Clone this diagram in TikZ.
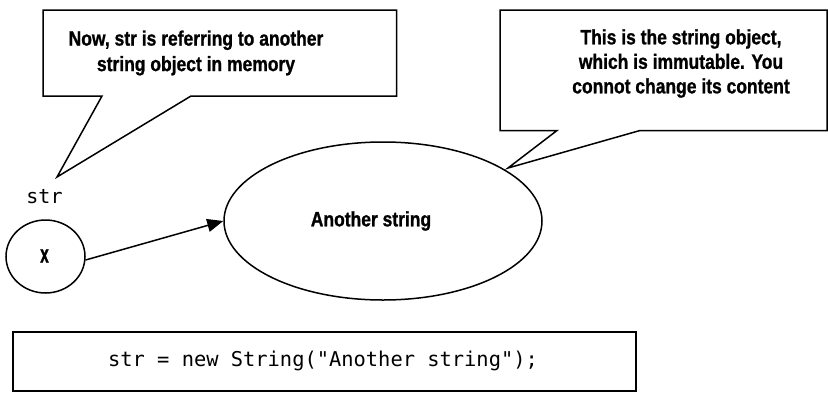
\documentclass[tikz,border=0pt]{standalone}
\usepackage{fontspec}
\setmainfont{Liberation Sans}
\newfontfamily\condfont[FakeStretch=0.84,BoldFeatures={FakeBold=1}]{Liberation Sans}
\newfontfamily\narrowfont[FakeStretch=0.62,BoldFeatures={FakeBold=1}]{Liberation Sans}
\newfontfamily\codefont{DejaVu Sans Mono}
\usetikzlibrary{shapes.geometric,arrows.meta}
\begin{document}
\begin{tikzpicture}[x=1pt,y=-1pt,line width=1.5pt,
  calltext/.style={font=\condfont\bfseries\fontsize{20.8}{25.5}\selectfont,align=center,inner sep=0pt},
  calltextb/.style={font=\condfont\bfseries\fontsize{20.8}{24.5}\selectfont,align=center,inner sep=0pt},
  codetext/.style={font=\codefont\fontsize{20.4}{24}\selectfont,inner sep=0pt},
  callout/.style={draw=black,line join=miter},
  arr/.style={-{Triangle[length=16pt,width=13pt]}}]
\useasboundingbox (0,0) rectangle (828,392);
% callout 1
\draw[callout] (43,10) -- (396.5,10) -- (396.5,96) -- (191,96) -- (57,177) -- (102,96) -- (43,96) -- cycle;
\node[calltext] (c1) at (196,53) {Now, str is referring to another\\string object in memory};
% callout 2
\draw[callout] (500,10) -- (827,10) -- (827,130.5) -- (640,130.5) -- (508,168) -- (557,130.5) -- (500,130.5) -- cycle;
\node[calltextb] (c2) at (681,63.5) {This is the string object,\\which is immutable. You\\connot change its content};
% reference variable
\node[codetext,font=\codefont\fontsize{20}{24}\selectfont] (lbl) at (44.5,197) {str};
\node[draw,ellipse,minimum width=79pt,minimum height=73pt,inner sep=0pt] (ref) at (45.5,256.5) {};
\node[font=\narrowfont\bfseries\fontsize{25}{28}\selectfont,inner sep=0pt] (xv) at (44.5,256) {x};
% string object
\node[draw,ellipse,minimum width=318pt,minimum height=158pt,inner sep=0pt] (obj) at (383,221) {};
\node[font=\condfont\bfseries\fontsize{20.8}{24}\selectfont,inner sep=0pt] (objtext) at (371,221) {Another string};
\draw[arr] (ref.-5) -- (obj.west);
% code line
\node[draw,minimum width=623pt,minimum height=59pt,inner sep=0pt] (code) at (324.5,361.5) {};
\node[codetext] (codetxt) at (323,361) {str = new String("Another string");};
\end{tikzpicture}
\end{document}
